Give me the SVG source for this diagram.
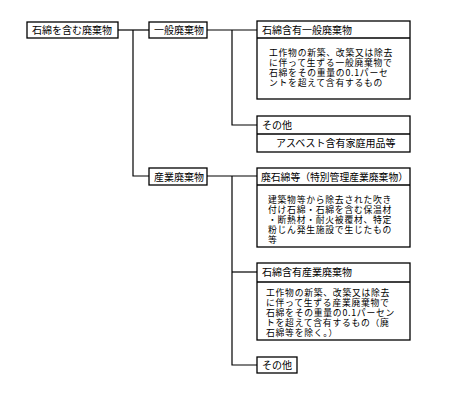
<svg xmlns="http://www.w3.org/2000/svg" width="450" height="403" viewBox="0 0 450 403">
<style>
rect{fill:#fff;stroke:#000;stroke-width:1.3}
line.d{stroke:#000;stroke-width:1.3}
text{font-family:"Noto Sans CJK JP","Noto Sans CJK SC",sans-serif;font-size:10px;fill:#000}
text.b{font-size:8.8px;letter-spacing:0.75px}
#connectors path{fill:none;stroke:#000;stroke-width:1.2}
</style>
<rect x="0" y="0" width="450" height="403" style="stroke:none"/>
<g id="connectors">
<path d="M118 30H149"/>
<path d="M133 30V176H149"/>
<path d="M207 30H257"/>
<path d="M232 30V125H257"/>
<path d="M207 176H257"/>
<path d="M232 176V365H257"/>
<path d="M232 272H257"/>
</g>
<g id="root"><rect x="27" y="22" width="91" height="16"/><text x="32" y="34">石綿を含む廃棄物</text></g>
<g id="general"><rect x="149" y="22" width="58" height="16"/><text x="154" y="34">一般廃棄物</text></g>
<g id="industrial"><rect x="149" y="168" width="58" height="17"/><text x="154" y="180.5">産業廃棄物</text></g>
<g id="asbestos-general"><rect x="257" y="21" width="153" height="78"/><line class="d" x1="257" y1="38" x2="410" y2="38"/>
<text x="262" y="33.5">石綿含有一般廃棄物</text>
<text class="b" x="269" y="56">工作物の新築、改築又は除去<tspan x="269" dy="9.9">に伴って生ずる一般廃棄物で</tspan><tspan x="269" dy="9.9">石綿をその重量の0.1パーセ</tspan><tspan x="269" dy="9.9">ントを超えて含有するもの</tspan></text></g>
<g id="other-general"><rect x="257" y="116" width="153" height="36"/><line class="d" x1="257" y1="134" x2="410" y2="134"/>
<text x="262" y="129">その他</text>
<text x="276" y="147">アスベスト含有家庭用品等</text></g>
<g id="waste-asbestos"><rect x="257" y="168" width="153" height="79"/><line class="d" x1="257" y1="185" x2="410" y2="185"/>
<text x="261" y="180.5" textLength="147" lengthAdjust="spacingAndGlyphs">廃石綿等（特別管理産業廃棄物）</text>
<text class="b" x="268" y="203">建築物等から除去された吹き<tspan x="268" dy="9.9">付け石綿・石綿を含む保温材</tspan><tspan x="268" dy="9.9">・断熱材・耐火被覆材、特定</tspan><tspan x="268" dy="9.9">粉じん発生施設で生じたもの</tspan><tspan x="268" dy="9.9">等</tspan></text></g>
<g id="asbestos-industrial"><rect x="257" y="263" width="153" height="77"/><line class="d" x1="257" y1="282" x2="410" y2="282"/>
<text x="262" y="276">石綿含有産業廃棄物</text>
<text class="b" x="266" y="296">工作物の新築、改築又は除去<tspan x="266" dy="9.9">に伴って生ずる産業廃棄物で</tspan><tspan x="266" dy="9.9">石綿をその重量の0.1パーセン</tspan><tspan x="266" dy="9.9">トを超えて含有するもの（廃</tspan><tspan x="266" dy="9.9">石綿等を除く。）</tspan></text></g>
<g id="other-industrial"><rect x="257" y="357" width="40" height="16"/><text x="262" y="369">その他</text></g>
</svg>
